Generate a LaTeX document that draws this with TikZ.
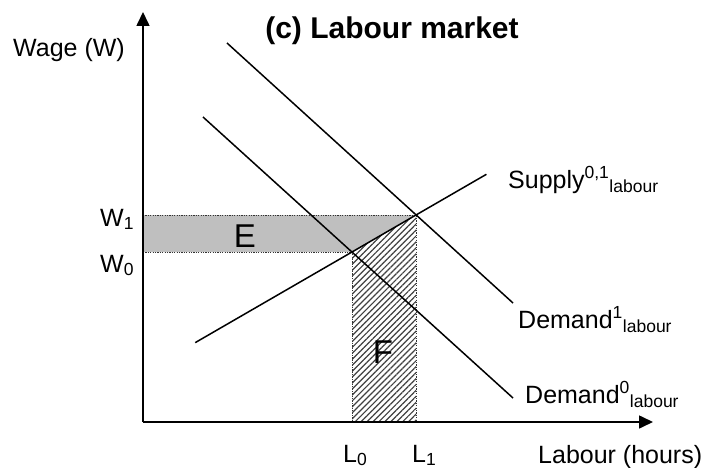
\documentclass[tikz,border=0pt]{standalone}
\usepackage{fontspec}
\setmainfont{Liberation Sans}
\usetikzlibrary{arrows.meta,calc,patterns.meta}
\tikzset{>=Stealth}

\newcommand{\lsub}[1]{\textsubscript{#1}}
\newcommand{\lsup}[1]{\textsuperscript{#1}}

\begin{document}
\begin{tikzpicture}[
    x=1pt, y=-1pt,
    axis/.style={-{Triangle[length=14pt,width=13pt]}, line width=1.6pt},
    curve/.style={line width=1.5pt},
    guide/.style={line width=0.9pt, dash pattern=on 1.2pt off 1.2pt, black!80},
    lab/.style={font=\fontsize{25}{30}\selectfont, inner sep=0pt},
    area/.style={font=\fontsize{33}{40}\selectfont, inner sep=0pt}
  ]
    \useasboundingbox (0,0) rectangle (707,468);

    % axes and equilibrium points
    \coordinate (O)    at (143,422);
    \coordinate (ytop) at (143,12);
    \coordinate (xend) at (653,422);
    \coordinate (e0)   at (352,252);
    \coordinate (e1)   at (416,215);

    % shaded areas
    \fill[black!25] (O |- e1) -- (e1) -- (e0) -- (O |- e0) -- cycle;
    \fill[pattern={Lines[angle=45,distance=4.2pt,line width=1.2pt]}, pattern color=black!75]
      (e0) -- (e1) -- (e1 |- O) -- (e0 |- O) -- cycle;

    \draw[guide] (O |- e1) -- (e1) -- (e1 |- O);
    \draw[guide] (O |- e0) -- (e0) -- (e0 |- O);

    % curves
    \coordinate (s0)  at ($(e0)!-2.45!(e1)$);
    \coordinate (s1)  at ($(e0)!2.1!(e1)$);
    \coordinate (d0s) at (203,117);
    \coordinate (d0e) at (513,398);
    \coordinate (d1s) at (227,43);
    \coordinate (d1e) at (513,303);

    \draw[curve] (s0) -- (s1);
    \draw[curve] (d0s) -- (d0e);
    \draw[curve] (d1s) -- (d1e);

    \draw[axis] (O) -- (ytop);
    \draw[axis] (O) -- (xend);

    % labels
    \node[lab, anchor=base, font=\fontsize{30}{36}\selectfont\bfseries] (title) at (392,39) {(c) Labour market};
    \node[lab, anchor=base west] (wlab) at (13,57) {Wage (W)};
    \node[lab, anchor=base west] (llab) at (538,463) {Labour (hours)};
    \node[lab, anchor=base west] (w1) at (100,226) {W\lsub{1}};
    \node[lab, anchor=base west] (w0) at (100,272) {W\lsub{0}};
    \node[lab, anchor=base west] (l0) at (343,462) {L\lsub{0}};
    \node[lab, anchor=base west] (l1) at (412,462) {L\lsub{1}};
    \node[lab, anchor=base west] (suplab) at (508,188) {Supply\lsup{0,1}\lsub{labour}};
    \node[lab, anchor=base west] (dem1lab) at (518,328) {Demand\lsup{1}\lsub{labour}};
    \node[lab, anchor=base west] (dem0lab) at (525,403) {Demand\lsup{0}\lsub{labour}};
    \node[area] (e) at (245,236) {E};
    \node[area] (f) at (383,352) {F};
  \end{tikzpicture}
\end{document}
